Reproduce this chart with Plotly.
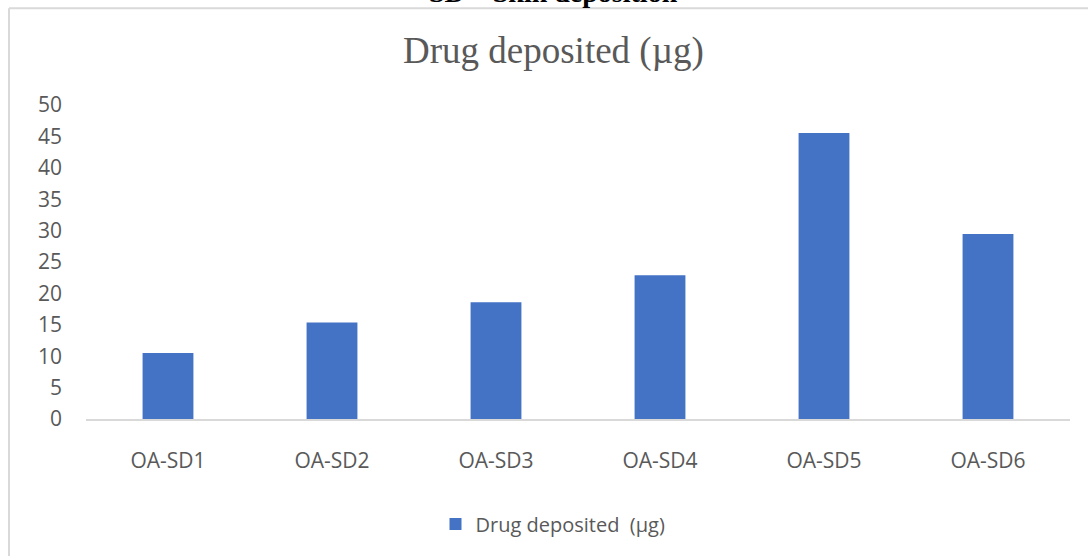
import plotly.graph_objects as go

# Skin deposition results per formulation
formulations = ["OA-SD1", "OA-SD2", "OA-SD3", "OA-SD4", "OA-SD5", "OA-SD6"]
drug_deposited = [10.5, 15.35, 18.6, 22.9, 45.55, 29.45]
y_ticks = [0, 5, 10, 15, 20, 25, 30, 35, 40, 45, 50]

W, H = 1088, 556
L, R, T, B = 86, 18, 105, 137
PW, PH = W - L - R, H - T - B


def px(x):
    return (x - L) / PW


def py(y):
    return (H - B - y) / PH


fig = go.Figure(
    go.Bar(
        x=formulations,
        y=drug_deposited,
        name="Drug deposited  (µg)",
        marker=dict(color="#4472C4", line=dict(width=0)),
    )
)

grey = "#595959"
tick_font = dict(family="Open Sans", size=21, color=grey)

fig.update_layout(
    width=W,
    height=H,
    margin=dict(l=L, r=R, t=T, b=B),
    paper_bgcolor="white",
    plot_bgcolor="white",
    bargap=0.69,
    showlegend=True,
    legend=dict(
        orientation="h",
        x=px(553),
        xanchor="center",
        y=py(524),
        yanchor="middle",
        font=dict(family="Open Sans", size=20, color=grey),
        bgcolor="rgba(0,0,0,0)",
    ),
    xaxis=dict(
        showgrid=False,
        showline=True,
        linecolor="#d9d9d9",
        linewidth=1.5,
        ticks="",
        tickfont=tick_font,
        ticklabelstandoff=22,
    ),
    yaxis=dict(
        range=[0, 50],
        tickvals=y_ticks,
        showgrid=False,
        showline=False,
        zeroline=False,
        ticks="",
        tickfont=tick_font,
        ticklabelstandoff=23,
    ),
    shapes=[
        # chart frame (top and left edges)
        dict(type="line", xref="paper", yref="paper",
             x0=px(9), x1=px(W + 5), y0=py(8.3), y1=py(8.3),
             line=dict(color="#d9d9d9", width=2)),
        dict(type="line", xref="paper", yref="paper",
             x0=px(9), x1=px(9), y0=py(8.3), y1=py(H + 5),
             line=dict(color="#d9d9d9", width=2)),
    ],
    annotations=[
        dict(text="Drug deposited (µg)", xref="paper", yref="paper",
             x=px(553), y=py(74), xanchor="center", yanchor="bottom",
             showarrow=False,
             font=dict(family="Liberation Serif", size=37, color=grey)),
        dict(text="<b>SD – Skin deposition</b>", xref="paper", yref="paper",
             x=px(553), y=py(10), xanchor="center", yanchor="bottom",
             showarrow=False,
             font=dict(family="Liberation Serif", size=28, color="black")),
    ],
)

fig.write_html("out.html")
